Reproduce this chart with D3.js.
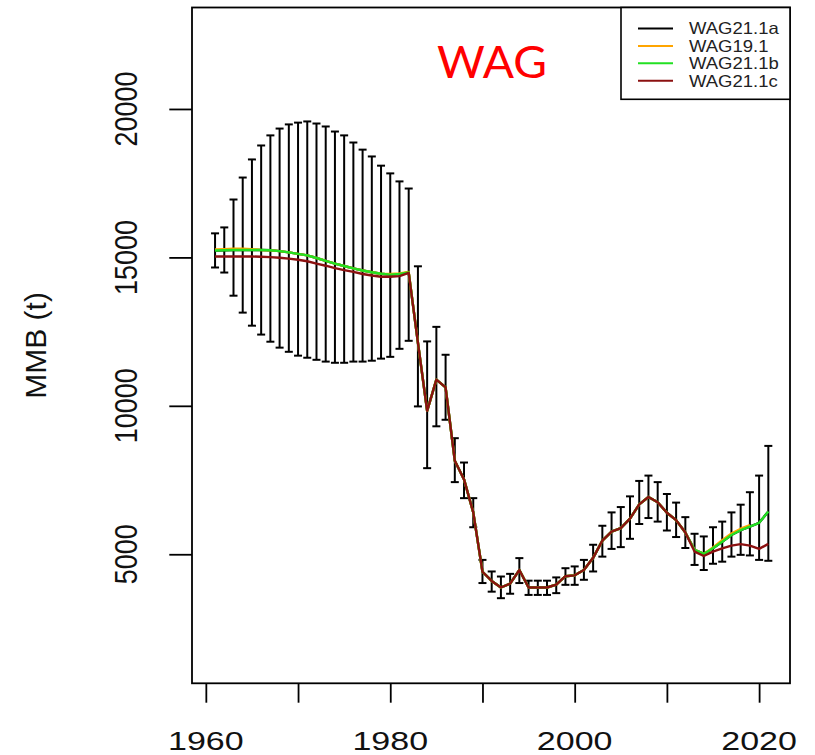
<!DOCTYPE html>
<html>
<head>
<meta charset="utf-8">
<script src="https://cdn.jsdelivr.net/npm/d3@7"></script>
<style>
  body { margin: 0; background: #fff; }
  text { font-family: "Liberation Sans", Arial, sans-serif; }
</style>
</head>
<body>
<svg id="chart"></svg>
<script>
const years = [1961, 1962, 1963, 1964, 1965, 1966, 1967, 1968, 1969, 1970,
    1971, 1972, 1973, 1974, 1975, 1976, 1977, 1978, 1979, 1980,
    1981, 1982, 1983, 1984, 1985, 1986, 1987, 1988, 1989, 1990,
    1991, 1992, 1993, 1994, 1995, 1996, 1997, 1998, 1999, 2000,
    2001, 2002, 2003, 2004, 2005, 2006, 2007, 2008, 2009, 2010,
    2011, 2012, 2013, 2014, 2015, 2016, 2017, 2018, 2019, 2020, 2021];

// WAG21.1a estimate (black) with its confidence band
const wag211a = [15230, 15240, 15250, 15250, 15250, 15250, 15240, 15210, 15170, 15120,
    15070, 14980, 14880, 14790, 14710, 14630, 14560, 14500, 14450, 14420,
    14440, 14490, 12130, 9830, 10880, 10620, 8150, 7520, 6410, 4410,
    4100, 3880, 4010, 4470, 3880, 3880, 3880, 3980, 4260, 4290,
    4470, 4880, 5460, 5760, 5880, 6200, 6680, 6930, 6750, 6400,
    6150, 5730, 5150, 5010, 5200, 5420, 5650, 5810, 5930, 6060, 6440];
const upper = [15810, 16010, 16950, 17690, 18300, 18770, 19110, 19340, 19480, 19540,
    19580, 19510, 19410, 19240, 19110, 18870, 18630, 18400, 18090, 17830,
    17560, 17320, 14700, 12170, 12660, 11720, 8910, 8090, 6890, 4810,
    4420, 4250, 4340, 4870, 4110, 4110, 4110, 4220, 4530, 4590,
    4810, 5320, 5960, 6410, 6590, 6950, 7470, 7650, 7430, 7030,
    6740, 6250, 5690, 5600, 5910, 6100, 6410, 6670, 7090, 7650, 8650];
const lower = [14660, 14490, 13710, 13140, 12700, 12400, 12160, 11960, 11820, 11690,
    11620, 11550, 11490, 11450, 11450, 11490, 11490, 11520, 11590, 11650,
    11920, 12190, 9980, 7900, 9310, 9530, 7430, 6890, 5910, 4030,
    3740, 3520, 3670, 4030, 3630, 3630, 3630, 3690, 3970, 3970,
    4140, 4420, 4920, 5180, 5240, 5520, 6020, 6220, 6100, 5800,
    5580, 5210, 4640, 4470, 4680, 4750, 4920, 4980, 4960, 4810, 4780];

// WAG19.1 (ends 2019)
const wag191 = [15270, 15280, 15290, 15290, 15280, 15250, 15240, 15210, 15170, 15120,
    15070, 14980, 14880, 14790, 14710, 14630, 14560, 14500, 14450, 14440,
    14460, 14510, 12130, 9830, 10880, 10620, 8150, 7520, 6410, 4410,
    4100, 3880, 4010, 4470, 3880, 3880, 3880, 3980, 4260, 4290,
    4470, 4880, 5460, 5760, 5880, 6200, 6680, 6930, 6750, 6400,
    6150, 5730, 5150, 5010, 5230, 5470, 5700, 5860, 5980];

// WAG21.1b
const wag211b = [15230, 15240, 15250, 15250, 15250, 15250, 15240, 15210, 15170, 15120,
    15070, 14980, 14880, 14790, 14710, 14630, 14560, 14500, 14450, 14420,
    14440, 14490, 12130, 9830, 10880, 10620, 8150, 7520, 6410, 4410,
    4100, 3880, 4010, 4470, 3880, 3880, 3880, 3980, 4260, 4290,
    4470, 4880, 5460, 5760, 5880, 6200, 6680, 6930, 6750, 6400,
    6150, 5730, 5150, 5010, 5200, 5420, 5650, 5810, 5930, 6060, 6440];

// WAG21.1c
const wag211c = [15030, 15030, 15030, 15030, 15030, 15020, 15010, 14990, 14960, 14920,
    14870, 14790, 14720, 14640, 14570, 14510, 14440, 14390, 14350, 14350,
    14370, 14480, 12130, 9830, 10880, 10620, 8150, 7520, 6410, 4410,
    4100, 3880, 4010, 4470, 3880, 3880, 3880, 3980, 4260, 4290,
    4470, 4880, 5460, 5760, 5880, 6200, 6680, 6930, 6750, 6400,
    6150, 5730, 5090, 4940, 5090, 5200, 5290, 5340, 5290, 5180, 5350];

const seriesNames = ['WAG21.1a', 'WAG19.1', 'WAG21.1b', 'WAG21.1c'];
const seriesColors = ['#000000', '#ffa500', '#22e022', '#8b1010'];
const seriesValues = [wag211a, wag191, wag211b, wag211c];

const xTicks = [1960, 1970, 1980, 1990, 2000, 2010, 2020];
const xLabels = [1960, 1980, 2000, 2020];
const yTicks = [5000, 10000, 15000, 20000];

const width = 815;
const height = 755;
const box = {left: 192, right: 790, top: 7.5, bottom: 683.3};

const svg = d3.select('svg#chart')
    .attr('width', width)
    .attr('height', height);

const x = d3.scaleLinear()
    .domain([1958.5, 2023.35])
    .range([box.left, box.right]);

const y = d3.scaleLinear()
    .domain([653, 23418])
    .range([box.bottom, box.top]);

// error bars
const bars = svg.append('g').attr('class', 'bars')
    .attr('stroke', '#000')
    .attr('stroke-width', 2);
const cap = 4;
years.forEach((yr, i) => {
    const cx = x(yr);
    bars.append('line')
        .attr('x1', cx).attr('x2', cx)
        .attr('y1', y(lower[i])).attr('y2', y(upper[i]));
    bars.append('line')
        .attr('x1', cx - cap).attr('x2', cx + cap)
        .attr('y1', y(upper[i])).attr('y2', y(upper[i]));
    bars.append('line')
        .attr('x1', cx - cap).attr('x2', cx + cap)
        .attr('y1', y(lower[i])).attr('y2', y(lower[i]));
});

// series lines
const line = d3.line()
    .x((d, i) => x(years[i]))
    .y(d => y(d));

svg.append('g').attr('class', 'lines')
    .selectAll('path')
    .data(seriesValues)
    .join('path')
    .attr('d', line)
    .attr('fill', 'none')
    .attr('stroke', (d, i) => seriesColors[i])
    .attr('stroke-width', 2.4)
    .attr('stroke-linejoin', 'round');

// frame
svg.append('rect')
    .attr('x', box.left).attr('y', box.top)
    .attr('width', box.right - box.left)
    .attr('height', box.bottom - box.top)
    .attr('fill', 'none')
    .attr('stroke', '#000')
    .attr('stroke-width', 1.8);

// x axis
const xAxis = svg.append('g')
    .attr('transform', `translate(0,${box.bottom})`)
    .call(d3.axisBottom(x).tickValues(xTicks).tickSize(19.4).tickFormat(''));
xAxis.select('.domain').remove();
xAxis.selectAll('line').attr('stroke-width', 1.8);

svg.append('g')
    .selectAll('text')
    .data(xLabels)
    .join('text')
    .attr('transform', d => `translate(${x(d)},750) scale(1.33,1)`)
    .attr('text-anchor', 'middle')
    .attr('font-size', 25.6)
    .attr('fill', '#111')
    .text(d => d);

// y axis
const yAxis = svg.append('g')
    .attr('transform', `translate(${box.left},0)`)
    .call(d3.axisLeft(y).tickValues(yTicks).tickSize(22.7).tickFormat(''));
yAxis.select('.domain').remove();
yAxis.selectAll('line').attr('stroke-width', 1.8);

svg.append('g')
    .selectAll('text')
    .data(yTicks)
    .join('text')
    .attr('transform', d => `translate(136.7,${y(d)}) scale(1.18,1) rotate(-90)`)
    .attr('text-anchor', 'middle')
    .attr('font-size', 27)
    .attr('fill', '#111')
    .text(d => d);

svg.append('text')
    .attr('transform', `translate(46,${(box.top + box.bottom) / 2}) rotate(-90)`)
    .attr('text-anchor', 'middle')
    .attr('font-size', 30)
    .attr('fill', '#111')
    .text('MMB (t)');

// title
svg.append('text')
    .attr('transform', 'translate(492,78.3) scale(1.05,1)')
    .attr('text-anchor', 'middle')
    .style('font-family', 'Lato, "Open Sans", sans-serif')
    .attr('font-size', 44)
    .attr('fill', '#ff0000')
    .text('WAG');

// legend
const legend = svg.append('g');
legend.append('rect')
    .attr('x', 621).attr('y', box.top)
    .attr('width', box.right - 621).attr('height', 99.3 - box.top)
    .attr('fill', '#fff')
    .attr('stroke', '#000')
    .attr('stroke-width', 1.6);
seriesNames.forEach((name, i) => {
    const ly = 28.5 + i * 17.4;
    legend.append('line')
        .attr('x1', 638).attr('x2', 673)
        .attr('y1', ly).attr('y2', ly)
        .attr('stroke', seriesColors[i])
        .attr('stroke-width', 2);
    legend.append('text')
        .attr('transform', `translate(689,${ly + 5.8}) scale(1.25,1.1)`)
        .attr('font-size', 14.8)
        .attr('fill', '#222')
        .text(name);
});
</script>
</body>
</html>
